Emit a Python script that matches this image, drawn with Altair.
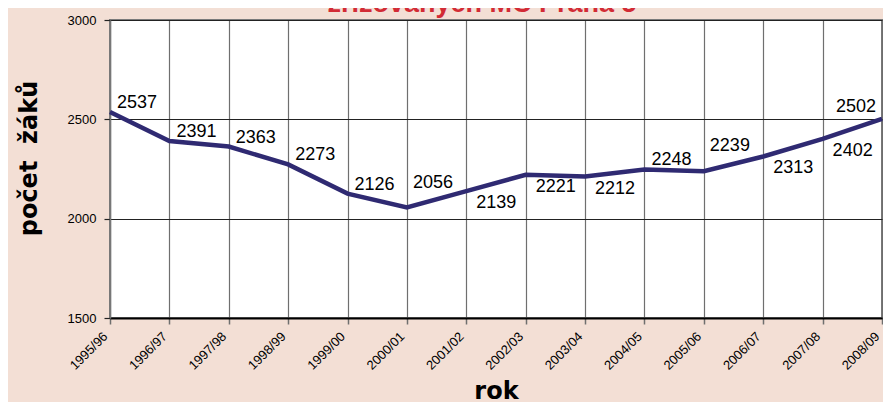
import altair as alt
import pandas as pd

years = ["1995/96", "1996/97", "1997/98", "1998/99", "1999/00", "2000/01", "2001/02",
         "2002/03", "2003/04", "2004/05", "2005/06", "2006/07", "2007/08", "2008/09"]
pupils = [2537, 2391, 2363, 2273, 2126, 2056, 2139, 2221, 2212, 2248, 2239, 2313, 2402, 2502]
y_ticks = [1500, 2000, 2500, 3000]
title_line = "zřizovaných MČ Praha 5"
y_title = "počet\u00a0 žáků"
x_title = "rok"

# label placement groups (which year labels sit above / well above / below / left of the point)
above = ["1995/96", "1996/97", "1997/98", "1998/99", "1999/00", "2004/05"]
high = ["2000/01", "2005/06"]
below = ["2001/02", "2002/03", "2003/04", "2006/07", "2007/08"]
left = ["2008/09"]

df = pd.DataFrame({"rok": years, "pocet": pupils})

LINE = "#2f2a72"
FONT = "Liberation Sans"

x_enc = alt.X("rok:N", sort=years,
              scale=alt.Scale(type="point", padding=0),
              axis=alt.Axis(title=x_title, labelAngle=-45, labelAlign="right",
                            labelBaseline="bottom", labelFontSize=13, labelFont=FONT,
                            labelColor="#000", labelPadding=15,
                            grid=True, gridColor="#6f6f6f", gridWidth=1.2,
                            tickColor="#6f6f6f", tickSize=6, tickWidth=1.5,
                            domainColor="#000", domainWidth=2,
                            titleFont="DejaVu Sans", titleFontSize=24, titleFontWeight="bold",
                            titleColor="#000", titleBaseline="alphabetic", titleY=80))
y_enc = alt.Y("pocet:Q", scale=alt.Scale(domain=[1500, 3000], nice=False, zero=False),
              axis=alt.Axis(title=y_title, values=y_ticks, format="d",
                            labelFontSize=13, labelFont=FONT,
                            labelColor="#000", labelPadding=8,
                            grid=True, gridColor="#222", gridWidth=1,
                            tickColor="#222", tickSize=6, tickWidth=1.2,
                            domainColor="#777", domainWidth=1.5,
                            titleFont="DejaVu Sans", titleFontSize=24, titleFontWeight="bold",
                            titleColor="#000", titleAngle=-90, titleBaseline="alphabetic",
                            titleX=-74, titleY=138, titleAlign="center"))

base = alt.Chart(df)

line = base.mark_line(color=LINE, strokeWidth=4.5, strokeJoin="miter").encode(x=x_enc, y=y_enc)

def labels(group, align, dx, dy):
    return base.transform_filter(
        alt.FieldOneOfPredicate(field="rok", oneOf=group)
    ).mark_text(align=align, baseline="middle", dx=dx, dy=dy, fontSize=18,
                font=FONT, color="#000").encode(
        x=alt.X("rok:N", sort=years), y="pocet:Q", text="pocet:Q")

title = alt.Chart(pd.DataFrame({"t": [title_line]})).mark_text(
    align="center", baseline="alphabetic", fontSize=27, fontWeight="bold",
    font=FONT, color="#d22b35"
).encode(x=alt.value(372), y=alt.value(-8), text="t:N")

chart = alt.layer(
    line,
    labels(above, "left", 7, -9),
    labels(high, "left", 6, -25),
    labels(below, "left", 10, 12),
    labels(left, "right", -6, -12),
    title,
).properties(
    width=772, height=298,
    padding={"left": 102, "top": 12, "right": 1, "bottom": 84},
    autosize=alt.AutoSizeParams(type="none"),
    background="#f3dfd5",
).configure_view(
    fill="white", stroke="#7a7a7a", strokeWidth=2
)

chart.save("out.html", embed_options={"renderer": "svg", "actions": False})
